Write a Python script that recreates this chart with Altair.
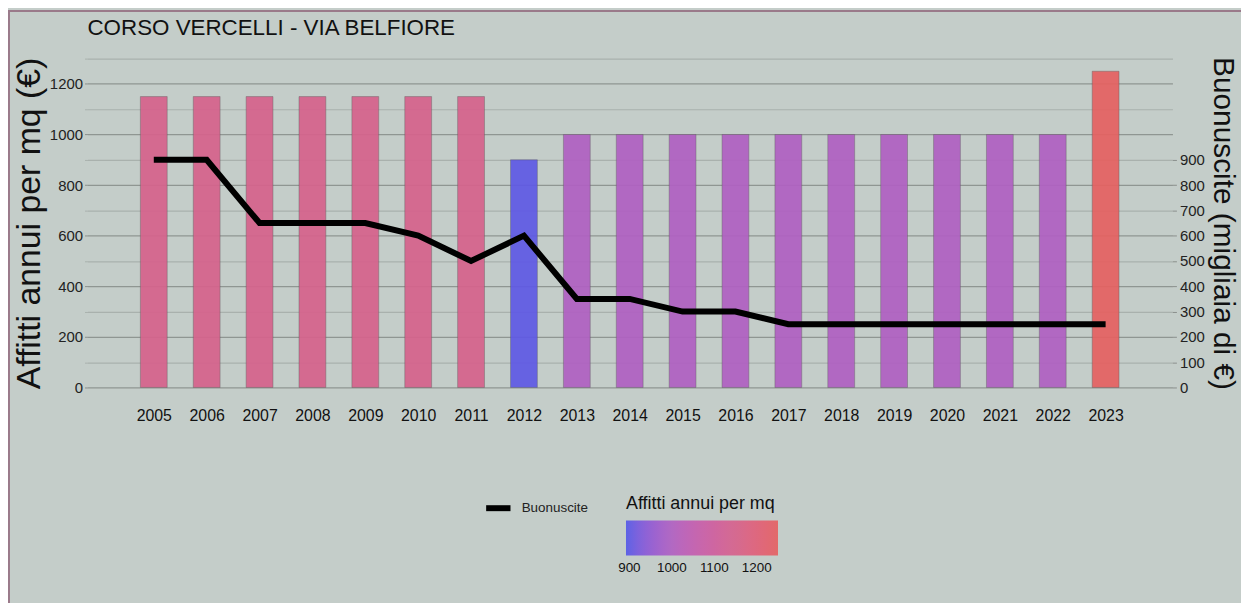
import altair as alt
import pandas as pd

years = list(range(2005, 2024))
affitti = [1150, 1150, 1150, 1150, 1150, 1150, 1150, 900,
           1000, 1000, 1000, 1000, 1000, 1000, 1000, 1000, 1000, 1000, 1250]
buonuscite = [900, 900, 650, 650, 650, 600, 500, 600,
              350, 350, 300, 300, 250, 250, 250, 250, 250, 250, 250]
left_grid = [0, 100, 200, 300, 400, 500, 600, 700, 800, 900, 1000, 1100, 1200, 1300]
right_ticks = [0, 100, 200, 300, 400, 500, 600, 700, 800, 900]
legend_ticks = [900, 1000, 1100, 1200]

FONT = "Liberation Sans, Arial, sans-serif"
BG = "#c4cdc9"

df = pd.DataFrame({"anno": years, "affitti": affitti, "buonuscite": buonuscite,
                   "serie": ["Buonuscite"] * len(years)})

xscale = alt.Scale(domain=[2003.84, 2024.17], nice=False, zero=False)
yscale = alt.Scale(domain=[0, 1300], nice=False)

x_enc = alt.X("anno:Q", scale=xscale,
              axis=alt.Axis(values=years, format="d", title=None, ticks=False, domain=False,
                            grid=False, labelFont=FONT, labelFontSize=16, labelColor="#111",
                            labelPadding=20))

major = "datum.value % 200 == 0 && datum.value <= 1200"

bars = alt.Chart(df).mark_bar(size=27, opacity=0.92, stroke="#5a5a5a", strokeWidth=0.6,
                              strokeOpacity=0.7).encode(
    x=x_enc,
    y=alt.Y("affitti:Q", scale=yscale,
            axis=alt.Axis(values=left_grid, title="Affitti annui per mq (€)", format="d",
                          labelExpr=f"{major} ? datum.label : ''",
                          titleFont=FONT, titleFontSize=34, titleFontWeight="normal",
                          titleColor="#111", titlePadding=3,
                          labelFont=FONT, labelFontSize=15, labelColor="#222",
                          labelPadding=2, tickSize=3,
                          tickColor=alt.condition(major, alt.value("#8a8f8c"), alt.value("#a9b1ad")),
                          domain=False, grid=True,
                          gridColor=alt.condition(major, alt.value("#8f9692"), alt.value("#a9b1ad")),
                          gridWidth=1.2)),
    fill=alt.Fill("affitti:Q",
                  scale=alt.Scale(domain=[892, 1000, 1150, 1250],
                                  range=["#5259e8", "#b060c2", "#d6628c", "#e56161"]),
                  legend=alt.Legend(title="Affitti annui per mq", orient="none",
                                    legendX=542, legendY=439, direction="horizontal",
                                    gradientLength=153, gradientThickness=35,
                                    values=legend_ticks, format="d", labelAlign="center",
                                    titleFont=FONT, titleFontSize=18, titleFontWeight="normal",
                                    titleColor="#111", titlePadding=8,
                                    labelFont=FONT, labelFontSize=13.5, labelColor="#111",
                                    labelOffset=6, gradientStrokeWidth=0)),
)

line = alt.Chart(df).mark_line(strokeWidth=6, strokeCap="butt").encode(
    x=x_enc,
    y=alt.Y("buonuscite:Q", scale=yscale,
            axis=alt.Axis(orient="right", values=right_ticks,
                          title="Buonuscite (migliaia di €)",
                          titleFont=FONT, titleFontSize=30, titleFontWeight="normal",
                          titleColor="#111", titlePadding=3,
                          labelFont=FONT, labelFontSize=15, labelColor="#222",
                          labelPadding=3, tickSize=4, tickColor="#8a8f8c",
                          domain=False, grid=False)),
    stroke=alt.Stroke("serie:N", scale=alt.Scale(domain=["Buonuscite"], range=["black"]),
                      legend=alt.Legend(title=None, orient="none", legendX=398, legendY=437,
                                        symbolType="stroke", symbolSize=600,
                                        symbolStrokeWidth=6,
                                        labelFont=FONT, labelFontSize=13.5,
                                        labelColor="#222", labelOffset=8)),
)

border = alt.Chart(pd.DataFrame({"k": [0]})).mark_rect(
    fill=None, stroke="#9a7a8a", strokeWidth=2, clip=False
).encode(x=alt.value(-79), x2=alt.value(1300), y=alt.value(-48), y2=alt.value(700))

chart = alt.layer(border, bars, line).resolve_scale(
    y="independent"
).properties(
    width=1092, height=331,
    title=alt.TitleParams("CORSO VERCELLI - VIA BELFIORE", anchor="start", frame="group",
                          font=FONT, fontSize=22.5, fontWeight="normal",
                          color="#111", offset=-30),
    background=BG,
    padding={"left": 80, "top": 49, "right": 69, "bottom": 215},
    autosize=alt.AutoSizeParams(type="none"),
).configure_view(stroke=None)

chart.save("out.html", embed_options={"renderer": "svg", "actions": False})
